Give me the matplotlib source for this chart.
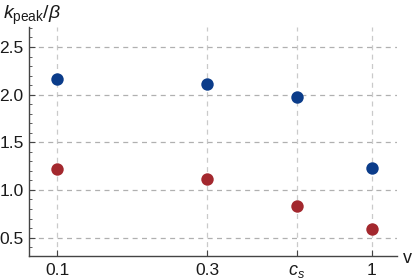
import numpy as np
import matplotlib
matplotlib.use("Agg")
import matplotlib.pyplot as plt
from matplotlib.ticker import FixedLocator, MultipleLocator, NullLocator

plt.rcParams["font.family"] = ["Liberation Sans", "DejaVu Sans"]
plt.rcParams["mathtext.fontset"] = "custom"
plt.rcParams["mathtext.rm"] = "Liberation Sans"
plt.rcParams["mathtext.it"] = "Liberation Sans:italic"
plt.rcParams["mathtext.bf"] = "Liberation Sans:bold"

# data
cs = 1 / np.sqrt(3)
v_vals = [0.1, 0.3, cs, 1.0]
k_upper = [2.16, 2.11, 1.98, 1.234]
k_lower = [1.217, 1.11, 0.835, 0.587]
x_ticks = [0.1, 0.3, cs, 1.0]
x_labels = ["0.1", "0.3", r"$c_s$", "1"]
y_ticks = [0.5, 1.0, 1.5, 2.0, 2.5]

blue = "#0B3C8A"
red = "#A3282E"
axis_col = "#444444"

fig = plt.figure(figsize=(4.15, 2.79), dpi=100)
ax = fig.add_axes([29.3 / 415, 1 - 255.7 / 279, (396.7 - 29.3) / 415, (255.7 - 27) / 279])

ax.set_xscale("log")
ax.set_xlim(0.0815, 1.201)
ax.set_ylim(0.31, 2.71)

ax.scatter(v_vals, k_upper, s=80, color=blue, zorder=3, linewidths=0)
ax.scatter(v_vals, k_lower, s=80, color=red, zorder=3, linewidths=0)

ax.xaxis.set_major_locator(FixedLocator(x_ticks))
ax.xaxis.set_minor_locator(NullLocator())
ax.set_xticks(x_ticks)
ax.set_xticklabels(x_labels)
ax.yaxis.set_major_locator(FixedLocator(y_ticks))
ax.yaxis.set_minor_locator(MultipleLocator(0.1))
ax.set_yticklabels(["0.5", "1.0", "1.5", "2.0", "2.5"])

for s in ["top", "right"]:
    ax.spines[s].set_visible(False)
for s in ["left", "bottom"]:
    ax.spines[s].set_color(axis_col)
    ax.spines[s].set_linewidth(1.0)

ax.tick_params(axis="both", which="major", direction="in", length=4,
               color=axis_col, labelsize=12.5, labelcolor="#1a1a1a")
ax.tick_params(axis="y", which="major", pad=4)
ax.tick_params(axis="x", which="major", pad=5)
ax.tick_params(axis="y", which="minor", direction="in", length=2.2, color=axis_col)

# the c_s label is a bit larger in the original
ax.get_xticklabels()[2].set_fontsize(13)

ax.grid(True, axis="y", which="major", color="#b0b0b0",
        linestyle=(0, (4, 3.5)), linewidth=0.9)
ax.grid(True, axis="x", which="major", color="#cacaca",
        linestyle=(0, (4, 3.5)), linewidth=0.9)

fig.text(3 / 415, 1 - 19 / 279, r"$k_{\mathrm{peak}}\mathrm{/}\beta$", fontsize=14,
         color="#1a1a1a", va="baseline", ha="left")
fig.text(403 / 415, 1 - 263 / 279, "v", fontsize=13, color="#1a1a1a",
         va="baseline", ha="left")

fig.savefig("out.png", dpi=100)
